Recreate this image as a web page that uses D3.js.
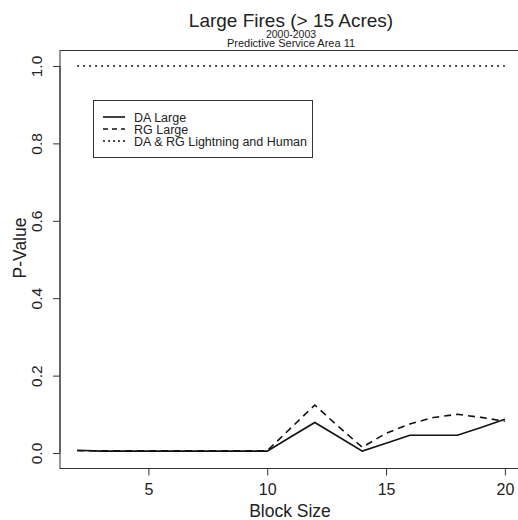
<!DOCTYPE html>
<html>
<head>
<meta charset="utf-8">
<script src="https://cdn.jsdelivr.net/npm/d3@7"></script>
<style>
  body { margin: 0; background: #fff; }
  text { font-family: "Liberation Sans", Arial, sans-serif; fill: #222; }
</style>
</head>
<body>
<script>
// data
var BLOCK_SIZES = [2, 3, 4, 5, 6, 7, 8, 9, 10, 11, 12, 13, 14, 15, 16, 17, 18, 19, 20];
var DA_LARGE = [0.007, 0.005, 0.005, 0.005, 0.005, 0.005, 0.005, 0.005, 0.005, 0.042, 0.079, 0.042, 0.005, 0.025, 0.046, 0.046, 0.046, 0.066, 0.087];
var RG_LARGE = [0.006, 0.006, 0.006, 0.006, 0.006, 0.006, 0.006, 0.006, 0.006, 0.065, 0.124, 0.068, 0.015, 0.051, 0.075, 0.092, 0.100, 0.092, 0.082];
var LIGHTNING_HUMAN = [1, 1, 1, 1, 1, 1, 1, 1, 1, 1, 1, 1, 1, 1, 1, 1, 1, 1, 1];
var LEGEND_LABELS = ["DA Large", "RG Large", "DA & RG Lightning and Human"];
var X_TICKS = [5, 10, 15, 20];
var Y_TICKS = [0, 0.2, 0.4, 0.6, 0.8, 1.0];

var W = 518, H = 520;
var MARGINS = {top: 50.5, bottom: 51.5, left: 60, right: -4};

var svg = d3.select("body").append("svg").attr("width", W).attr("height", H);

// R style axis range: data range padded by 4%
var xScale = d3.scaleLinear().domain([1.28, 20.72]).range([MARGINS.left, W - MARGINS.right]);
var yScale = d3.scaleLinear().domain([-0.04, 1.04]).range([H - MARGINS.bottom, MARGINS.top]);

// plot box
svg.append("rect")
    .attr("x", MARGINS.left).attr("y", MARGINS.top)
    .attr("width", W - MARGINS.right - MARGINS.left)
    .attr("height", H - MARGINS.bottom - MARGINS.top)
    .attr("fill", "none").attr("stroke", "#333").attr("stroke-width", 1);

// x axis
var xAxis = d3.axisBottom(xScale).tickValues(X_TICKS).tickSize(7).tickPadding(8).tickFormat(d3.format("d"));
var gx = svg.append("g").attr("class", "x axis")
    .attr("transform", "translate(0," + (H - MARGINS.bottom) + ")")
    .call(xAxis);
gx.select(".domain").attr("d", "M" + xScale(5) + ",0H" + xScale(20)).attr("stroke", "#333");
gx.selectAll(".tick line").attr("stroke", "#333");
gx.selectAll(".tick text").style("font-size", "16px").attr("fill", "#222")
    .style("font-family", "Liberation Sans, Arial, sans-serif");

// y axis (labels rotated like R)
var yAxis = d3.axisLeft(yScale).tickValues(Y_TICKS).tickSize(7).tickFormat(d3.format(".1f"));
var gy = svg.append("g").attr("class", "y axis")
    .attr("transform", "translate(" + MARGINS.left + ",0)")
    .call(yAxis);
gy.select(".domain").attr("d", "M0," + yScale(0) + "V" + yScale(1)).attr("stroke", "#333");
gy.selectAll(".tick line").attr("stroke", "#333");
gy.selectAll(".tick text")
    .attr("x", null).attr("dy", null)
    .attr("transform", "translate(-23,0) rotate(-90)")
    .attr("text-anchor", "middle").attr("dy", "0.35em")
    .style("font-size", "15.5px").attr("fill", "#222")
    .style("font-family", "Liberation Sans, Arial, sans-serif");

// lines
var line = d3.line()
    .x(function (d, i) { return xScale(BLOCK_SIZES[i]); })
    .y(function (d) { return yScale(d); });

svg.append("path").datum(LIGHTNING_HUMAN).attr("d", line)
    .attr("fill", "none").attr("stroke", "#111").attr("stroke-width", 1.6)
    .attr("stroke-dasharray", "2,4");
svg.append("path").datum(DA_LARGE).attr("d", line)
    .attr("fill", "none").attr("stroke", "#111").attr("stroke-width", 1.6);
svg.append("path").datum(RG_LARGE).attr("d", line)
    .attr("fill", "none").attr("stroke", "#111").attr("stroke-width", 1.6)
    .attr("stroke-dasharray", "7,5");

// titles
svg.append("text").attr("x", 291).attr("y", 27).attr("text-anchor", "middle")
    .style("font-size", "19px").text("Large Fires (> 15 Acres)");
svg.append("text").attr("x", 291).attr("y", 37.5).attr("text-anchor", "middle")
    .style("font-size", "10.5px").text("2000-2003");
svg.append("text").attr("x", 291).attr("y", 47).attr("text-anchor", "middle")
    .style("font-size", "11px").text("Predictive Service Area 11");

svg.append("text").attr("x", 290).attr("y", 517).attr("text-anchor", "middle")
    .style("font-size", "17.5px").text("Block Size");
svg.append("text").attr("transform", "translate(26,248) rotate(-90)").attr("text-anchor", "middle")
    .style("font-size", "17.5px").text("P-Value");

// legend
var legend = svg.append("g");
legend.append("rect").attr("x", 93.5).attr("y", 100.5).attr("width", 219).attr("height", 57)
    .attr("fill", "#fff").attr("stroke", "#333").attr("stroke-width", 1);
var dashes = [null, "5,4", "2,3"];
LEGEND_LABELS.forEach(function (lab, i) {
    var base = 121.5 + i * 12;
    legend.append("line").attr("x1", 103).attr("x2", 125).attr("y1", base - 4.5).attr("y2", base - 4.5)
        .attr("stroke", "#111").attr("stroke-width", 1.6)
        .attr("stroke-dasharray", dashes[i]);
    legend.append("text").attr("x", 134).attr("y", base)
        .style("font-size", "12.5px").text(lab);
});
</script>
</body>
</html>
